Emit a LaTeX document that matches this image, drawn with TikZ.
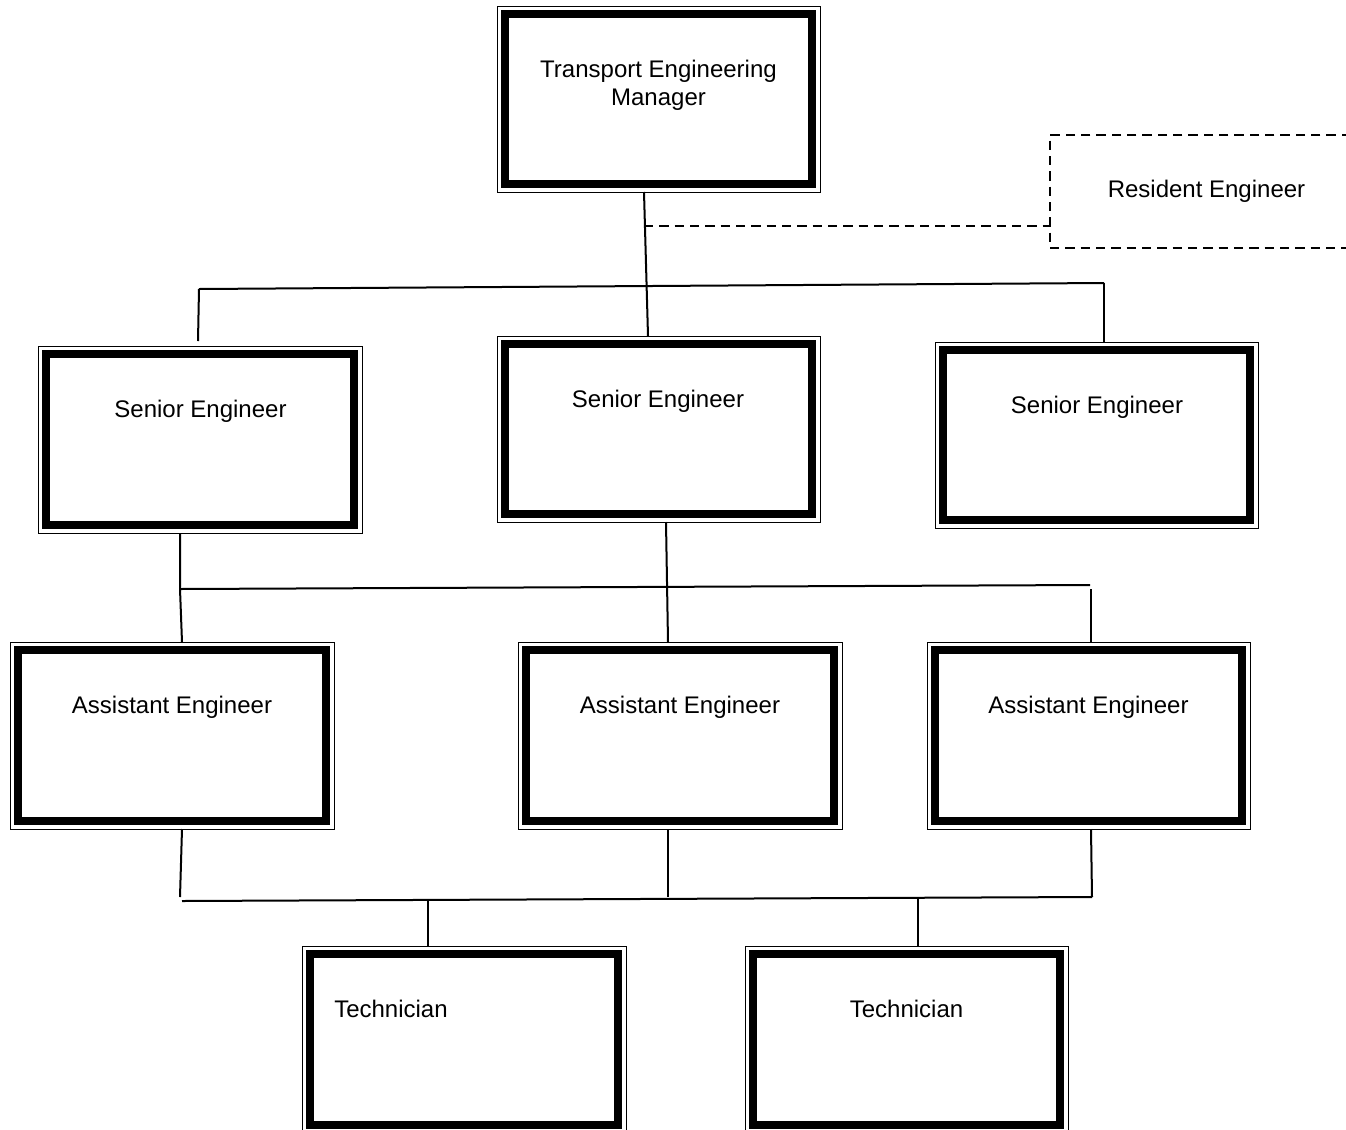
\documentclass[tikz,border=0pt]{standalone}
\usepackage{fontspec}
\setmainfont{Liberation Sans}
\usetikzlibrary{fit}
\begin{document}
\begin{tikzpicture}[x=0.75pt,y=-0.75pt,
  box/.style={draw, line width=0.75pt, rectangle, inner sep=0pt, outer sep=0pt},
  resbox/.style={draw, line width=1.5pt, dash pattern=on 7pt off 4.5pt, rectangle, inner sep=0pt, outer sep=0pt},
  txt/.style={inner sep=0pt, font=\fontsize{18pt}{21pt}\selectfont},
  conn/.style={line width=1.5pt},
  dconn/.style={line width=1.5pt, dash pattern=on 7pt off 4.5pt},
  thickin/.style={line width=6pt}]
\fill[white] (0,0) rectangle (1346,1129);
\useasboundingbox (0,0) rectangle (1346,1129);

% boxes
\node[box, fit={(497,6) (820,192)}] (mgr) {};
\node[resbox, fit={(1050,135) (1420,248)}] (res) {};
\node[box, fit={(38,346) (362,533)}] (se1) {};
\node[box, fit={(497,336) (820,522)}] (se2) {};
\node[box, fit={(935,342) (1258,528)}] (se3) {};
\node[box, fit={(10,642) (334,829)}] (ae1) {};
\node[box, fit={(518,642) (842,829)}] (ae2) {};
\node[box, fit={(927,642) (1250,829)}] (ae3) {};
\node[box, fit={(302,946) (626,1133)}] (t1) {};
\node[box, fit={(745,946) (1068,1133)}] (t2) {};

\foreach \n in {mgr,se1,se2,se3,ae1,ae2,ae3,t1,t2}
  \draw[thickin] ([shift={(8,8)}]\n.north west) rectangle ([shift={(-8,-8)}]\n.south east);

% texts
\node[txt, align=center, anchor=base] (mgrt) at (658.5,105) {Transport Engineering\\Manager};
\node[txt, anchor=base] (rest) at (1206.5,197) {Resident Engineer};
\node[txt, anchor=base] (se1t) at (200.5,417) {Senior Engineer};
\node[txt, anchor=base] (se2t) at (658,407) {Senior Engineer};
\node[txt, anchor=base] (se3t) at (1097,413) {Senior Engineer};
\node[txt, anchor=base] (ae1t) at (172,713) {Assistant Engineer};
\node[txt, anchor=base] (ae2t) at (680,713) {Assistant Engineer};
\node[txt, anchor=base] (ae3t) at (1088.5,713) {Assistant Engineer};
\node[txt, anchor=base west] (t1t) at (334,1017) {Technician};
\node[txt, anchor=base] (t2t) at (906.5,1017) {Technician};

% connectors
\draw[conn] ([shift={(147,0)}]mgr.south west) -- ([shift={(151,0)}]se2.north west);
\coordinate (mj) at (644,226);
\draw[dconn] (mj) -- (mj -| res.west);

\coordinate (b1L) at (199,289);
\coordinate (b1R) at (1104,283);
\draw[conn] (b1L) -- (b1R);
\draw[conn] (b1L) -- ([shift={(160,-5)}]se1.north west);
\draw[conn] (b1R) -- (b1R |- se3.north);

\coordinate (b2L) at (180,589);
\coordinate (b2R) at (1090,585);
\draw[conn] ([shift={(142,0)}]se1.south west) -- (b2L) -- ([shift={(172,0)}]ae1.north west);
\draw[conn] (b2L) -- (b2R);
\draw[conn] ([shift={(169,0)}]se2.south west) -- ([shift={(150,0)}]ae2.north west);
\draw[conn] ([shift={(1,4)}]b2R) -- ([shift={(164,0)}]ae3.north west);

\coordinate (b3L) at (182,901);
\coordinate (b3R) at (1092,897);
\draw[conn] ([shift={(172,0)}]ae1.south west) -- ([shift={(-2,-4)}]b3L);
\draw[conn] (b3L) -- (b3R);
\draw[conn] ([shift={(150,0)}]ae2.south west) -- ++(0,68);
\draw[conn] ([shift={(164,0)}]ae3.south west) -- (b3R);
\draw[conn] ([shift={(126,0)}]t1.north west) -- ++(0,-46);
\draw[conn] ([shift={(173,0)}]t2.north west) -- ++(0,-48);
\end{tikzpicture}
\end{document}
